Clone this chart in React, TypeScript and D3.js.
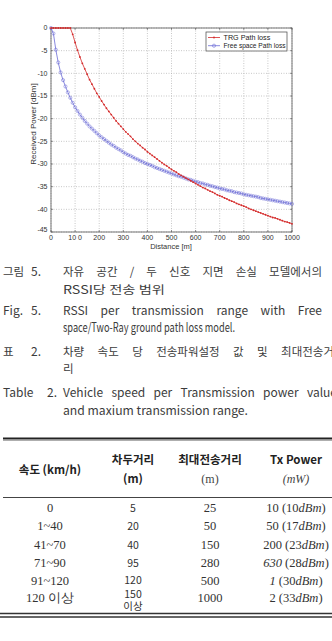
import React from "react";
import * as d3 from "d3";

const distances = [0,10,20,30,40,50,60,70,80,90,100,110,120,130,140,150,160,170,180,190,200,210,220,230,240,250,260,270,280,290,300,310,320,330,340,350,360,370,380,390,400,410,420,430,440,450,460,470,480,490,500,510,520,530,540,550,560,570,580,590,600,610,620,630,640,650,660,670,680,690,700,710,720,730,740,750,760,770,780,790,800,810,820,830,840,850,860,870,880,890,900,910,920,930,940,950,960,970,980,990,1000];

const trgLoss = [0,0,0,0,0,0,0,0,0,-1.4,-3.2,-4.9,-6.4,-7.8,-9.0,-10.2,-11.4,-12.4,-13.4,-14.4,-15.2,-16.1,-16.9,-17.7,-18.4,-19.1,-19.8,-20.5,-21.1,-21.7,-22.3,-22.9,-23.4,-23.9,-24.5,-25.0,-25.5,-25.9,-26.4,-26.8,-27.3,-27.7,-28.1,-28.5,-28.9,-29.3,-29.7,-30.1,-30.4,-30.8,-31.2,-31.5,-31.8,-32.2,-32.5,-32.8,-33.1,-33.4,-33.7,-34.0,-34.3,-34.6,-34.9,-35.2,-35.4,-35.7,-36.0,-36.2,-36.5,-36.8,-37.0,-37.2,-37.5,-37.7,-38.0,-38.2,-38.4,-38.7,-38.9,-39.1,-39.3,-39.5,-39.8,-40.0,-40.2,-40.4,-40.6,-40.8,-41.0,-41.2,-41.4,-41.6,-41.8,-41.9,-42.1,-42.3,-42.5,-42.7,-42.8,-43.0,-43.2];

const freeSpaceLoss = [0,-1.2,-4.8,-7.6,-9.8,-11.5,-12.9,-14.2,-15.4,-16.5,-17.5,-18.3,-19.1,-19.8,-20.5,-21.1,-21.7,-22.2,-22.7,-23.2,-23.7,-24.1,-24.5,-24.9,-25.3,-25.7,-26.0,-26.4,-26.7,-27.0,-27.4,-27.7,-28.0,-28.2,-28.5,-28.8,-29.0,-29.3,-29.5,-29.8,-30.0,-30.2,-30.4,-30.7,-30.9,-31.1,-31.3,-31.5,-31.7,-31.9,-32.1,-32.3,-32.5,-32.7,-32.8,-33.0,-33.2,-33.4,-33.5,-33.7,-33.9,-34.0,-34.2,-34.3,-34.5,-34.6,-34.8,-34.9,-35.1,-35.2,-35.4,-35.5,-35.6,-35.8,-35.9,-36.0,-36.2,-36.3,-36.4,-36.5,-36.7,-36.8,-36.9,-37.0,-37.1,-37.2,-37.3,-37.5,-37.6,-37.7,-37.8,-37.9,-38.0,-38.1,-38.2,-38.3,-38.4,-38.5,-38.6,-38.7,-38.8];

const xTicks = [0,100,200,300,400,500,600,700,800,900,1000];
const xTickLabels = ["0","10 0","200","300","400","500","600","700","800","900","1000"];
const yTicks = [0,-5,-10,-15,-20,-25,-30,-35,-40,-45];
const seriesNames = ["TRG Path loss","Free space Path loss"];

const speeds = ["0","1~40","41~70","71~90","91~120","120 이상"];
const headways = ["5","20","40","95","120","150"];
const maxRanges = ["25","50","150","280","500","1000"];
const txPowerMw = ["10","50","200","630","1","2"];
const txPowerDbm = ["10","17","23","28","30","33"];

const KR = "'Noto Sans CJK KR', 'Noto Sans', sans-serif";
const SERIF = "'Liberation Serif', 'DejaVu Serif', serif";
const ARIAL = "'Liberation Sans', Arial, sans-serif";
const CAP = "#3c3c3c";

let ctx: CanvasRenderingContext2D | null = null;
function measure(text: string, font: string) {
  if (!ctx) ctx = document.createElement("canvas").getContext("2d");
  if (!ctx) return text.length * 7;
  ctx.font = font;
  return ctx.measureText(text).width;
}

function Justified({ words, x0, x1, y, size }: { words: string[]; x0: number; x1: number; y: number; size: number }) {
  const font = `${size}px ${KR}`;
  const widths = words.map((w) => measure(w, font));
  const total = widths.reduce((a, b) => a + b, 0);
  const gap = words.length > 1 ? (x1 - x0 - total) / (words.length - 1) : 0;
  let x = x0;
  return (
    <g>
      {words.map((w, i) => {
        const el = (
          <text key={i} x={x} y={y} dy="0.35em" fontFamily={KR} fontSize={size} fill={CAP}>
            {w}
          </text>
        );
        x += widths[i] + gap;
        return el;
      })}
    </g>
  );
}

function Label({ x, y, text, size = 12, width }: { x: number; y: number; text: string; size?: number; width?: number }) {
  return (
    <text
      x={x}
      y={y}
      dy="0.35em"
      fontFamily={KR}
      fontSize={size}
      fill={CAP}
      textLength={width}
      lengthAdjust={width ? "spacingAndGlyphs" : undefined}
    >
      {text}
    </text>
  );
}

export default function App() {
  const x = d3.scaleLinear().domain([0, 1000]).range([51, 292]);
  const y = d3.scaleLinear().domain([-45, 0]).range([232, 28]);
  const line = d3
    .line<number>()
    .x((_, i) => x(distances[i]))
    .y((d) => y(d));
  const red = "#d42a2a";
  const blue = "#6b6bd6";
  const krSize = 11.5;
  const enSize = 12;

  const colX = [50, 133, 210, 296];
  const rowY = [508, 526, 545, 563, 581, 598];
  const hdr = 11.5;

  return (
    <svg width={332} height={641} style={{ position: "absolute", left: 0, top: 0, background: "#fff" }}>
      <rect x={0} y={0} width={332} height={641} fill="#fff" />
      {/* chart */}
      {xTicks.map((t) => (
        <line key={"gx" + t} x1={x(t)} x2={x(t)} y1={28} y2={232} stroke="#b0b0b0" strokeWidth={0.7} strokeDasharray="1,1.5" />
      ))}
      {yTicks.map((t) => (
        <line key={"gy" + t} x1={51} x2={292} y1={y(t)} y2={y(t)} stroke="#b0b0b0" strokeWidth={0.7} strokeDasharray="1,1.5" />
      ))}
      <rect x={51} y={28} width={241} height={204} fill="none" stroke="#555" strokeWidth={0.8} />
      {xTicks.map((t) => (
        <g key={"tx" + t}>
          <line x1={x(t)} x2={x(t)} y1={232} y2={230} stroke="#555" strokeWidth={0.6} />
          <line x1={x(t)} x2={x(t)} y1={28} y2={30} stroke="#555" strokeWidth={0.6} />
        </g>
      ))}
      {yTicks.map((t) => (
        <g key={"ty" + t}>
          <line x1={51} x2={53} y1={y(t)} y2={y(t)} stroke="#555" strokeWidth={0.6} />
          <line x1={290} x2={292} y1={y(t)} y2={y(t)} stroke="#555" strokeWidth={0.6} />
        </g>
      ))}
      {xTicks.map((t, i) => (
        <text key={"lx" + t} x={x(t)} y={237.5} dy="0.35em" textAnchor="middle" fontFamily={ARIAL} fontSize={7} fill="#333">
          {xTickLabels[i]}
        </text>
      ))}
      {yTicks.map((t) => (
        <text key={"ly" + t} x={47.5} y={t === -45 ? y(t) - 2 : y(t)} dy="0.35em" textAnchor="end" fontFamily={ARIAL} fontSize={7} fill="#333">
          {t}
        </text>
      ))}
      <text x={171} y={246} dy="0.35em" textAnchor="middle" fontFamily={ARIAL} fontSize={7.5} fill="#333">
        Distance [m]
      </text>
      <text transform="translate(33,124) rotate(-90)" dy="0.35em" textAnchor="middle" fontFamily={ARIAL} fontSize={8} fill="#333">
        Received Power [dBm]
      </text>

      {/* series */}
      <path d={line(freeSpaceLoss) || ""} fill="none" stroke={blue} strokeWidth={0.8} />
      {freeSpaceLoss.map((v, i) => (
        <circle key={"b" + i} cx={x(distances[i])} cy={y(v)} r={1.6} fill="none" stroke={blue} strokeWidth={0.6} opacity={0.85} />
      ))}
      <path d={line(trgLoss) || ""} fill="none" stroke={red} strokeWidth={0.8} />
      {trgLoss.map((v, i) => (
        <circle key={"r" + i} cx={x(distances[i])} cy={y(v)} r={0.9} fill={red} />
      ))}

      {/* legend */}
      <rect x={206} y={32} width={81} height={19} fill="#fff" stroke="#444" strokeWidth={0.7} />
      <line x1={208} x2={220} y1={37.5} y2={37.5} stroke={red} strokeWidth={0.8} />
      <circle cx={214} cy={37.5} r={0.9} fill={red} />
      <text x={223.5} y={37.5} dy="0.35em" fontFamily={ARIAL} fontSize={7.2} fill="#222">{seriesNames[0]}</text>
      <line x1={208} x2={220} y1={45.7} y2={45.7} stroke={blue} strokeWidth={0.8} />
      <circle cx={214} cy={45.7} r={1.6} fill="none" stroke={blue} strokeWidth={0.6} />
      <text x={223.5} y={45.7} dy="0.35em" fontFamily={ARIAL} fontSize={7.2} fill="#222" textLength={62} lengthAdjust="spacingAndGlyphs">{seriesNames[1]}</text>

      {/* captions */}
      <Label x={3} y={272} text="그림" size={krSize} />
      <Label x={31} y={272} text="5." size={enSize} />
      <Justified words={["자유", "공간", "/", "두", "신호", "지면", "손실", "모델에서의"]} x0={63} x1={322} y={272} size={krSize} />
      <Label x={63} y={290} text="RSSI당 전송 범위" size={krSize} width={102} />
      <Label x={3} y={311} text="Fig." size={enSize} />
      <Label x={31} y={311} text="5." size={enSize} />
      <Justified words={["RSSI", "per", "transmission", "range", "with", "Free"]} x0={63} x1={322} y={311} size={enSize} />
      <Label x={63} y={328} text="space/Two-Ray ground path loss model." size={12.5} width={172} />
      <Label x={3} y={352} text="표" size={krSize} />
      <Label x={31} y={352} text="2." size={enSize} />
      <Justified words={["차량", "속도", "당", "전송파워설정", "값", "및", "최대전송거"]} x0={63} x1={334} y={352} size={krSize} />
      <Label x={63} y={369} text="리" size={krSize} />
      <Label x={3} y={393} text="Table" size={enSize} />
      <Label x={47} y={393} text="2." size={enSize} />
      <Justified words={["Vehicle", "speed", "per", "Transmission", "power", "value"]} x0={63} x1={337} y={393} size={enSize} />
      <Label x={63} y={411} text="and maxium transmission range." size={enSize} width={185} />

      {/* table */}
      <line x1={3} x2={332} y1={438.5} y2={438.5} stroke="#222" strokeWidth={2} />
      <line x1={3} x2={332} y1={440.5} y2={440.5} stroke="#999" strokeWidth={0.8} />
      <text x={colX[0]} y={470} dy="0.35em" textAnchor="middle" fontFamily={KR} fontWeight="bold" fontSize={hdr} fill="#222">속도 (km/h)</text>
      <text x={colX[1]} y={460} dy="0.35em" textAnchor="middle" fontFamily={KR} fontWeight="bold" fontSize={hdr} fill="#222">차두거리</text>
      <text x={colX[1]} y={479} dy="0.35em" textAnchor="middle" fontFamily={KR} fontWeight="bold" fontSize={hdr} fill="#222">(m)</text>
      <text x={colX[2]} y={460} dy="0.35em" textAnchor="middle" fontFamily={KR} fontWeight="bold" fontSize={hdr} fill="#222">최대전송거리</text>
      <text x={colX[2]} y={479} dy="0.35em" textAnchor="middle" fontFamily={SERIF} fontSize={12} fill="#444">(m)</text>
      <text x={colX[3]} y={460} dy="0.35em" textAnchor="middle" fontFamily={KR} fontWeight="bold" fontSize={hdr} fill="#222">Tx Power</text>
      <text x={colX[3]} y={479} dy="0.35em" textAnchor="middle" fontFamily={SERIF} fontStyle="italic" fontSize={12} fill="#444">(mW)</text>
      <line x1={3} x2={332} y1={497.5} y2={497.5} stroke="#444" strokeWidth={1} />

      {speeds.map((s, i) => (
        <text key={"s" + i} x={colX[0]} y={rowY[i]} dy="0.35em" textAnchor="middle" fontFamily={SERIF} fontSize={12.5} fill="#333">
          {s}
        </text>
      ))}
      {headways.map((h, i) =>
        i === headways.length - 1 ? (
          <g key={"h" + i}>
            <text x={colX[1]} y={594} dy="0.35em" textAnchor="middle" fontFamily={KR} fontSize={10.5} fill="#333">{h}</text>
            <text x={colX[1]} y={606} dy="0.35em" textAnchor="middle" fontFamily={KR} fontSize={10.5} fill="#333">이상</text>
          </g>
        ) : (
          <text key={"h" + i} x={colX[1]} y={i === 4 ? 580.5 : rowY[i]} dy="0.35em" textAnchor="middle" fontFamily={KR} fontSize={10.5} fill="#333">
            {h}
          </text>
        )
      )}
      {maxRanges.map((m, i) => (
        <text key={"m" + i} x={colX[2]} y={rowY[i]} dy="0.35em" textAnchor="middle" fontFamily={SERIF} fontSize={12.5} fill="#333">
          {m}
        </text>
      ))}
      {txPowerMw.map((p, i) => (
        <text key={"p" + i} x={colX[3]} y={rowY[i]} dy="0.35em" textAnchor="middle" fontFamily={SERIF} fontSize={12.5} fill="#333">
          <tspan fontStyle={i === 3 || i === 4 ? "italic" : "normal"}>{p}</tspan>
          <tspan> (</tspan>
          <tspan>{txPowerDbm[i]}</tspan>
          <tspan fontStyle="italic">dBm</tspan>
          <tspan>)</tspan>
        </text>
      ))}
      <line x1={0} x2={332} y1={613.5} y2={613.5} stroke="#333" strokeWidth={1.3} />
      <line x1={0} x2={332} y1={617} y2={617} stroke="#333" strokeWidth={1.3} />
    </svg>
  );
}
